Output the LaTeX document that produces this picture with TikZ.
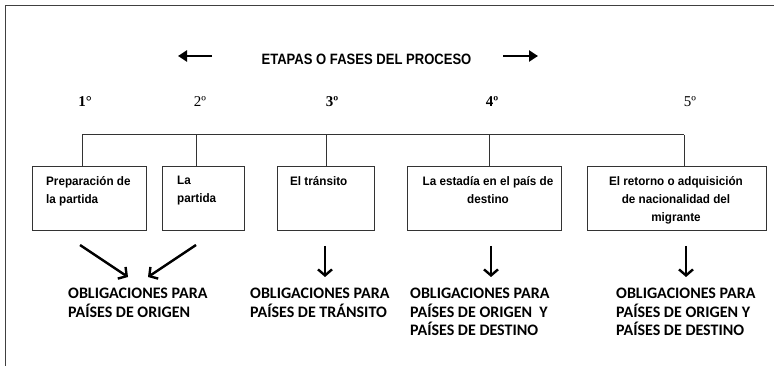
\documentclass[tikz,border=0pt]{standalone}
\usepackage{fontspec}
\setmainfont{Liberation Serif}
\newfontfamily\arialn[FakeStretch=0.87]{Liberation Sans}
\newfontfamily\arialb[FakeStretch=0.95]{Liberation Sans}
\newfontfamily\calibri{Carlito}
\usetikzlibrary{arrows.meta}
\begin{document}
\begin{tikzpicture}[x=1pt,y=-1pt,
  frame/.style={draw=black!75,line width=1.6pt},
  wire/.style={draw=black!80,line width=1pt},
  box/.style={draw=black!80,line width=1pt,rectangle,inner sep=0pt},
  boxtxt/.style={inner sep=0pt,font=\arialb\bfseries\fontsize{12.3}{18}\selectfont,text=black},
  num/.style={inner sep=0pt,font=\fontsize{15}{17}\selectfont},
  bnum/.style={inner sep=0pt,font=\bfseries\fontsize{15}{17}\selectfont},
  obl/.style={inner sep=0pt,anchor=north west,align=left,font=\calibri\bfseries\fontsize{16}{18.5}\selectfont,text=black},
  bigarrow/.style={line width=2.4pt,-{Straight Barb[length=6pt,width=14pt,line width=2.4pt]}},
  titlearrow/.style={line width=2.4pt,-{Triangle[length=9pt,width=11pt]}}]
\useasboundingbox (0,0) rectangle (774,366);
% frame
\coordinate (ftl) at (5.5,5.5);
\coordinate (ftr) at (774,5.5);
\coordinate (fbl) at (5.5,366);
\draw[frame] (ftr) -- (ftl) -- (fbl);
% title
\node[inner sep=0pt,font=\arialn\bfseries\fontsize{15}{17}\selectfont,text=black] (title) at (366.5,59.5) {ETAPAS O FASES DEL PROCESO};
\coordinate (la1) at (212,56);
\coordinate (la2) at (178,56);
\coordinate (ra1) at (503,56);
\coordinate (ra2) at (538,56);
\draw[titlearrow] (la1) -- (la2);
\draw[titlearrow] (ra1) -- (ra2);
% numbers
\node[bnum] (n1) at (85,102) {1°};
\node[num] (n2) at (200,102) {2º};
\node[bnum] (n3) at (332,102) {3º};
\node[bnum] (n4) at (492,102) {4º};
\node[num] (n5) at (690,102) {5º};
% boxes
\node[box,minimum width=114pt,minimum height=64pt] (b1) at (89,199) {};
\node[box,minimum width=82pt,minimum height=64pt] (b2) at (203,199) {};
\node[box,minimum width=97pt,minimum height=64pt] (b3) at (325.5,199) {};
\node[box,minimum width=154pt,minimum height=64pt] (b4) at (484,199) {};
\node[box,minimum width=179pt,minimum height=64pt] (b5) at (676.5,199) {};
% box texts
\node[boxtxt,anchor=north west,align=left] (t1) at (46,176) {Preparación de\\la partida};
\node[boxtxt,anchor=north west,align=left] (t2) at (177,176) {La\\partida};
\node[boxtxt,anchor=north west,align=left] (t3) at (290,176) {El tránsito};
\node[boxtxt,anchor=north,align=center] (t4) at (488,176) {La estadía en el país de\\destino};
\node[boxtxt,anchor=north,align=center] (t5) at (676,176) {El retorno o adquisición\\de nacionalidad del\\migrante};
% bus
\coordinate (d1) at (82,135);
\coordinate (d2) at (196,135);
\coordinate (d3) at (326,135);
\coordinate (d4) at (489,135);
\coordinate (d5) at (684,135);
\draw[wire] (d1) -- (d5);
\draw[wire] (d1) -- (d1 |- b1.north);
\draw[wire] (d2) -- (d2 |- b2.north);
\draw[wire] (d3) -- (d3 |- b3.north);
\draw[wire] (d4) -- (d4 |- b4.north);
\draw[wire] (d5) -- (d5 |- b5.north);
% lower arrows
\coordinate (a1s) at (80,245);
\coordinate (a1e) at (128,277);
\coordinate (a2s) at (196,245);
\coordinate (a2e) at (148,277);
\coordinate (a3s) at (325,246);
\coordinate (a3e) at (325,277);
\coordinate (a4s) at (491,246);
\coordinate (a4e) at (491,277);
\coordinate (a5s) at (686,246);
\coordinate (a5e) at (686,277);
\draw[bigarrow] (a1s) -- (a1e);
\draw[bigarrow] (a2s) -- (a2e);
\draw[bigarrow] (a3s) -- (a3e);
\draw[bigarrow] (a4s) -- (a4e);
\draw[bigarrow] (a5s) -- (a5e);
% obligations
\node[obl] (o1) at (68,288) {OBLIGACIONES PARA\\PAÍSES DE ORIGEN};
\node[obl] (o2) at (250,288) {OBLIGACIONES PARA\\PAÍSES DE TRÁNSITO};
\node[obl] (o3) at (410,288) {OBLIGACIONES PARA\\PAÍSES DE ORIGEN\ \ Y\\PAÍSES DE DESTINO};
\node[obl] (o4) at (616,288) {OBLIGACIONES PARA\\PAÍSES DE ORIGEN Y\\PAÍSES DE DESTINO};
\end{tikzpicture}
\end{document}
